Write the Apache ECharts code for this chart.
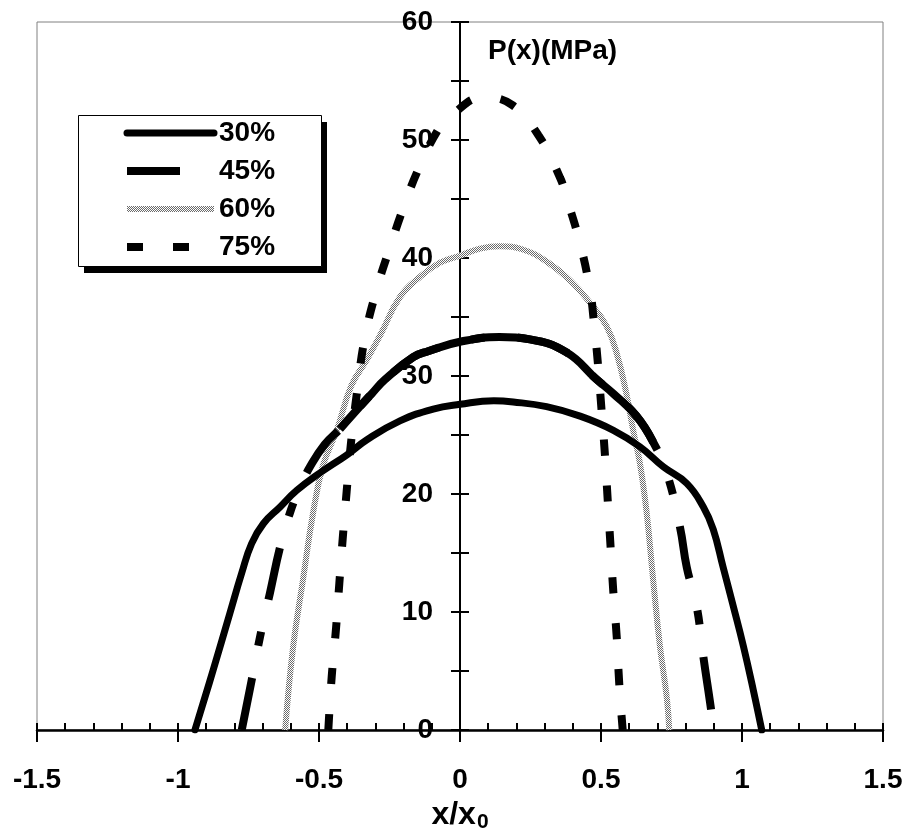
<!DOCTYPE html>
<html>
<head>
<meta charset="utf-8">
<script src="https://cdn.jsdelivr.net/npm/echarts@6/dist/echarts.min.js"></script>
<style>
html,body{margin:0;padding:0;background:#fff;}
#chart{width:912px;height:835px;}
</style>
</head>
<body>
<div id="chart"></div>
<script>
// ---- data ----
const seriesNames = ['30%', '45%', '60%', '75%'];
const xTickLabels = ['-1.5', '-1', '-0.5', '0', '0.5', '1', '1.5'];
const yTickLabels = ['0', '10', '20', '30', '40', '50', '60'];

const x30 = [-0.94, -0.875, -0.816, -0.774, -0.739, -0.697, -0.638, -0.579, -0.496, -0.402, -0.33, -0.213, -0.095, 0, 0.12, 0.189, 0.307, 0.426, 0.544, 0.638, 0.721, 0.804, 0.863, 0.898, 0.933, 0.969, 1.005, 1.040, 1.070];
const y30 = [0, 5.1, 9.9, 13.3, 15.8, 17.5, 18.9, 20.3, 21.8, 23.3, 24.6, 26.2, 27.2, 27.6, 27.9, 27.8, 27.4, 26.6, 25.4, 24.0, 22.3, 20.9, 18.9, 17.0, 13.8, 10.5, 7.1, 3.4, 0];

const x45 = [-0.774, -0.739, -0.709, -0.674, -0.638, -0.603, -0.567, -0.532, -0.48, -0.426, -0.378, -0.313, -0.266, -0.166, -0.113, 0, 0.14, 0.248, 0.378, 0.485, 0.544, 0.626, 0.685, 0.733, 0.78, 0.804, 0.839, 0.863, 0.887, 0.9];
const y45 = [0, 4.2, 7.9, 11.6, 15.5, 18.4, 20.6, 22.3, 24.2, 25.5, 26.8, 28.5, 29.7, 31.6, 32.1, 32.9, 33.3, 33.1, 32.0, 29.7, 28.5, 26.6, 24.4, 21.8, 17.2, 13.8, 10.5, 6.2, 2.3, 0];

const x60 = [-0.62, -0.592, -0.557, -0.521, -0.486, -0.437, -0.385, -0.33, -0.28, -0.213, -0.142, -0.071, 0, 0.071, 0.142, 0.225, 0.307, 0.39, 0.461, 0.52, 0.556, 0.59, 0.614, 0.638, 0.662, 0.685, 0.709, 0.733, 0.742];
const y60 = [0, 7.0, 12.7, 18.4, 22.4, 25.4, 29.2, 31.4, 33.6, 36.7, 38.4, 39.6, 40.2, 40.8, 41.0, 40.7, 39.7, 38.1, 36.2, 34.2, 31.9, 28.5, 25.4, 22.6, 18.4, 12.7, 7.1, 2.8, 0];

const x75 = [-0.467, -0.455, -0.44, -0.428, -0.416, -0.402, -0.388, -0.366, -0.337, -0.296, -0.254, -0.2, -0.148, -0.077, -0.035, 0.083, 0.183, 0.278, 0.355, 0.378, 0.426, 0.461, 0.473, 0.487, 0.502, 0.514, 0.524, 0.534, 0.544, 0.556, 0.565, 0.577];
const y75 = [0, 4.5, 8.5, 12.4, 16.2, 20.2, 24.0, 28.5, 33.3, 37.3, 40.5, 44.3, 47.5, 50.9, 52.0, 53.6, 53.0, 50.4, 46.8, 45.1, 41.2, 37.3, 35.0, 31.6, 27.1, 23.3, 19.4, 15.5, 11.6, 7.8, 3.8, 0];

// x-range where the 45% curve is drawn as a continuous stroke in the reference
const solid45Range = [-0.45, 0.69];

// ---- helpers ----
function pairs(xs, ys) { return xs.map((x, i) => [x, ys[i]]); }
function pairsIn(xs, ys, r) { return pairs(xs, ys).filter(p => p[0] >= r[0] && p[0] <= r[1]); }

const stipple = document.createElement('canvas');
stipple.width = 2; stipple.height = 2;
(function () {
  const g = stipple.getContext('2d');
  g.fillStyle = '#ffffff'; g.fillRect(0, 0, 2, 2);
  g.fillStyle = '#6a6a6a'; g.fillRect(0, 0, 1, 1); g.fillRect(1, 1, 1, 1);
})();

const FONT = "'Liberation Sans', Arial, sans-serif";
const chart = echarts.init(document.getElementById('chart'), null, { renderer: 'canvas' });

const GRID = { left: 37, right: 29, top: 22, bottom: 105 };
const CHART_W = 912;
// the vertical axis sits at x = 0: shift it from the grid's left edge to that position
const yAxisShift = -((0 - (-1.5)) / 3) * (CHART_W - GRID.left - GRID.right);

const baseX = { type: 'value', min: -1.5, max: 1.5, position: 'bottom', splitLine: { show: false } };
const baseY = { type: 'value', min: 0, max: 60, interval: 5, position: 'left', offset: yAxisShift, splitLine: { show: false } };
const SMOOTH = 0.45;

const option = {
  animation: false,
  backgroundColor: '#fff',
  grid: Object.assign({}, GRID, {
    containLabel: false, outerBoundsMode: 'none',
    show: true, borderColor: '#808080', borderWidth: 1, backgroundColor: 'transparent'
  }),
  xAxis: [
    Object.assign({}, baseX, {
      interval: 0.5,
      axisLine: { onZero: false, lineStyle: { color: '#000', width: 2.5 } },
      axisTick: { show: true, inside: false, length: 12, lineStyle: { color: '#000', width: 2 } },
      axisLabel: {
        margin: 36, color: '#000', fontSize: 28, fontWeight: 'bold', fontFamily: FONT,
        formatter: v => { const s = xTickLabels.find(t => Math.abs(parseFloat(t) - v) < 1e-6); return s === undefined ? '' : s; }
      },
      name: '{m|x/x}{s|0}',
      nameLocation: 'middle',
      nameGap: 66,
      nameTextStyle: {
        color: '#000', fontFamily: FONT, fontWeight: 'bold',
        rich: {
          m: { fontSize: 32, fontWeight: 'bold', fontFamily: FONT, color: '#000' },
          s: { fontSize: 21, fontWeight: 'bold', fontFamily: FONT, color: '#000', padding: [14, 0, 0, 1] }
        }
      }
    }),
    Object.assign({}, baseX, {
      interval: 0.1,
      axisLine: { show: false, onZero: false },
      axisTick: { show: true, inside: true, length: 7, lineStyle: { color: '#000', width: 2 } },
      axisLabel: { show: false }
    })
  ],
  yAxis: [
    Object.assign({}, baseY, {
      axisLine: { onZero: false, lineStyle: { color: '#000', width: 2 } },
      axisTick: { show: true, inside: false, length: 9, lineStyle: { color: '#000', width: 2 } },
      axisLabel: {
        margin: 27, color: '#000', fontSize: 28, fontWeight: 'bold', fontFamily: FONT,
        formatter: v => { const s = yTickLabels.find(t => Math.abs(parseFloat(t) - v) < 1e-6); return s === undefined ? '' : s; }
      }
    }),
    Object.assign({}, baseY, {
      axisLine: { show: false, onZero: false },
      axisTick: { show: true, inside: true, length: 9, lineStyle: { color: '#000', width: 2 } },
      axisLabel: { show: false }
    })
  ],
  legend: {
    orient: 'vertical',
    left: 78, top: 115,
    padding: [4, 40, 4, 45],
    itemGap: 10,
    itemWidth: 87,
    itemHeight: 14,
    selectedMode: false,
    z: 10,
    itemStyle: { opacity: 0 },
    data: [
      { name: seriesNames[0], lineStyle: { width: 7, cap: 'round' } },
      { name: seriesNames[1], lineStyle: { width: 8, type: [53, 200] } },
      { name: seriesNames[2], lineStyle: { width: 6 } },
      { name: seriesNames[3], lineStyle: { width: 8 } }
    ],
    textStyle: { color: '#000', fontSize: 28, fontWeight: 'bold', fontFamily: FONT, padding: [0, 0, 0, 0] }
  },
  graphic: [
    { type: 'rect', z: 1, shape: { x: 84, y: 122, width: 243, height: 151 }, style: { fill: '#000' } },
    { type: 'rect', z: 2, shape: { x: 78.5, y: 115.5, width: 243, height: 151 }, style: { fill: '#fff', stroke: '#000', lineWidth: 1 } },
    { type: 'text', z: 3, left: 488, top: 37, style: { text: 'P(x)(MPa)', fill: '#000', font: "bold 28px 'Liberation Sans', Arial, sans-serif" } }
  ],
  series: [
    {
      name: seriesNames[0], type: 'line', data: pairs(x30, y30), smooth: SMOOTH, symbol: 'none', z: 4,
      lineStyle: { color: '#000', width: 7, type: 'solid', cap: 'round', join: 'round' }
    },
    {
      name: seriesNames[1], type: 'line', data: pairs(x45, y45), smooth: SMOOTH, symbol: 'none', z: 3,
      lineStyle: { color: '#000', width: 8, type: [53, 33, 14, 33], cap: 'butt' }
    },
    {
      name: '45% (continuous part)', type: 'line', data: pairsIn(x45, y45, solid45Range), smooth: SMOOTH, symbol: 'none', z: 3,
      lineStyle: { color: '#000', width: 8, type: 'solid', cap: 'butt' }
    },
    {
      name: seriesNames[2], type: 'line', data: pairs(x60, y60), smooth: SMOOTH, symbol: 'none', z: 2,
      lineStyle: { color: { image: stipple, repeat: 'repeat' }, width: 6, type: 'solid' }
    },
    {
      name: seriesNames[3], type: 'line', data: pairs(x75, y75), smooth: SMOOTH, symbol: 'none', z: 3,
      lineStyle: { color: '#000', width: 8, type: [16, 30], cap: 'butt' }
    }
  ]
};
chart.setOption(option);
</script>
</body>
</html>
